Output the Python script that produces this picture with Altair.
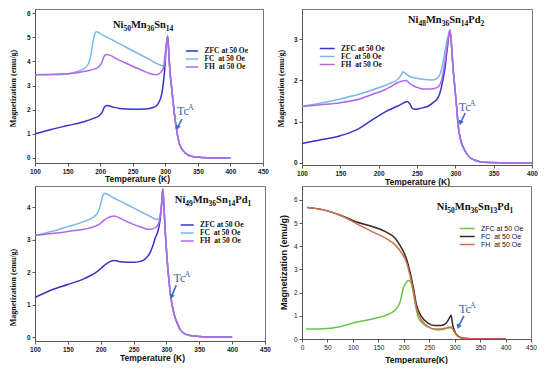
import altair as alt
import pandas as pd

SERIES = ["ZFC at 50 Oe", "FC\u00a0\u00a0at 50 Oe", "FH\u00a0\u00a0at 50 Oe"]
COLS_A = ["#3434c8", "#7ab8e6", "#b068e6"]
COLS_B = ["#66c844", "#3a2626", "#d0704e"]

# ---------- Panel 1: Ni50Mn36Sn14 ----------
p1_zfc_T = [100, 125, 150, 175, 190, 198, 203, 207, 211, 218, 230, 250, 270, 282, 287, 291, 294, 297, 299, 301, 303.5,
            305, 307, 310, 312, 317, 322, 330, 340, 355, 375, 400]
p1_zfc_M = [1.00, 1.18, 1.34, 1.50, 1.64, 1.74, 1.90, 2.12, 2.17, 2.12, 2.05, 2.02, 2.03, 2.10, 2.17, 2.35, 2.58, 3.10, 3.65, 4.40, 5.05,
            4.55, 3.65, 2.85, 2.31, 1.23, 0.56, 0.23, 0.07, 0.02, 0.0, 0.0]
p1_fc_T = [100, 130, 150, 165, 175, 182, 186, 189, 192, 194.5, 200, 220, 250, 275, 292, 297, 299, 301, 303.5,
           305, 307, 310, 312, 317, 322, 330, 340, 355, 375, 400]
p1_fc_M = [3.45, 3.45, 3.48, 3.58, 3.70, 3.90, 4.30, 4.80, 5.15, 5.23, 5.15, 4.87, 4.44, 4.09, 3.85, 3.82, 3.95, 4.40, 5.05,
           4.55, 3.65, 2.85, 2.31, 1.23, 0.56, 0.23, 0.07, 0.02, 0.0, 0.0]
p1_fh_T = [100, 150, 175, 195, 202, 207, 210, 230, 251, 265, 276, 286, 292, 297, 300, 303.5,
           305, 307, 310, 312, 317, 322, 330, 340, 355, 375, 400]
p1_fh_M = [3.45, 3.49, 3.58, 3.72, 3.92, 4.25, 4.28, 4.04, 3.79, 3.62, 3.50, 3.45, 3.52, 3.72, 4.32, 5.05,
           4.55, 3.65, 2.85, 2.31, 1.23, 0.56, 0.23, 0.07, 0.02, 0.0, 0.0]

# ---------- Panel 2: Ni48Mn36Sn14Pd2 ----------
p2_zfc_T = [100, 125, 150, 171, 193, 210, 225, 232, 237.5, 241, 244, 248, 258, 265, 271, 278, 282, 286.5, 290, 293,
            295, 297, 299, 301, 304, 307, 310.5, 315, 319, 325, 332, 345, 370, 400]
p2_zfc_M = [0.47, 0.56, 0.66, 0.80, 1.06, 1.25, 1.38, 1.45, 1.49, 1.42, 1.32, 1.30, 1.34, 1.38, 1.46, 1.60, 1.85, 2.30, 2.85, 3.22,
            2.85, 2.31, 1.90, 1.50, 0.86, 0.55, 0.37, 0.22, 0.13, 0.07, 0.03, 0.01, 0.0, 0.0]
p2_fc_T = [100, 125, 150, 175, 200, 215, 225, 230, 232, 235, 240, 250, 260, 270, 276, 280, 283, 286, 289, 291, 293,
           295, 297, 299, 301, 304, 307, 310.5, 315, 319, 325, 332, 345, 370, 400]
p2_fc_M = [1.37, 1.45, 1.55, 1.67, 1.82, 1.93, 2.03, 2.15, 2.21, 2.17, 2.10, 2.05, 2.02, 2.01, 2.05, 2.15, 2.35, 2.65, 2.95, 3.10, 3.22,
           2.85, 2.31, 1.90, 1.50, 0.86, 0.55, 0.37, 0.22, 0.13, 0.07, 0.03, 0.01, 0.0, 0.0]
p2_fh_T = [100, 125, 150, 175, 193, 205, 214, 223, 230, 236, 240, 245, 252, 258, 265, 271, 278, 282, 286.5, 290, 293,
           295, 297, 299, 301, 304, 307, 310.5, 315, 319, 325, 332, 345, 370, 400]
p2_fh_M = [1.37, 1.41, 1.46, 1.55, 1.67, 1.75, 1.83, 1.93, 1.98, 2.00, 1.93, 1.87, 1.82, 1.79, 1.79, 1.80, 1.85, 2.00, 2.45, 2.90, 3.22,
           2.85, 2.31, 1.90, 1.50, 0.86, 0.55, 0.37, 0.22, 0.13, 0.07, 0.03, 0.01, 0.0, 0.0]

# ---------- Panel 3: Ni49Mn36Sn14Pd1 ----------
p3_zfc_T = [100, 125, 150, 175, 195, 205, 212, 218, 221, 228, 236, 250, 260, 266, 272, 276, 280, 283, 287, 290, 292.5, 294.5,
            296.5, 298.5, 301, 303.5, 307, 310, 313.6, 317, 321, 328, 336, 350, 370, 400]
p3_zfc_M = [1.22, 1.45, 1.62, 1.80, 2.02, 2.20, 2.30, 2.35, 2.36, 2.33, 2.31, 2.30, 2.33, 2.38, 2.50, 2.64, 2.85, 3.05, 3.25, 3.55, 4.05, 4.56,
            3.90, 3.15, 2.40, 1.82, 1.20, 0.85, 0.58, 0.40, 0.23, 0.10, 0.05, 0.02, 0.0, 0.0]
p3_fc_T = [100, 125, 150, 175, 190, 196, 200, 203, 205.5, 220, 240, 260, 275, 285, 289, 291.5, 293, 294.5,
           296.5, 298.5, 301, 303.5, 307, 310, 313.6, 317, 321, 328, 336, 350, 370, 400]
p3_fc_M = [3.13, 3.25, 3.40, 3.56, 3.71, 3.85, 4.10, 4.33, 4.43, 4.28, 4.08, 3.87, 3.72, 3.62, 3.65, 3.90, 4.20, 4.56,
           3.90, 3.15, 2.40, 1.82, 1.20, 0.85, 0.58, 0.40, 0.23, 0.10, 0.05, 0.02, 0.0, 0.0]
p3_fh_T = [100, 150, 190, 200, 205.5, 212, 218, 220.6, 235, 250.7, 262, 271, 276, 282, 286, 289, 291, 293, 294.5,
           296.5, 298.5, 301, 303.5, 307, 310, 313.6, 317, 321, 328, 336, 350, 370, 400]
p3_fh_M = [3.13, 3.25, 3.40, 3.50, 3.61, 3.68, 3.72, 3.73, 3.60, 3.46, 3.38, 3.32, 3.32, 3.36, 3.42, 3.55, 3.80, 4.15, 4.56,
           3.90, 3.15, 2.40, 1.82, 1.20, 0.85, 0.58, 0.40, 0.23, 0.10, 0.05, 0.02, 0.0, 0.0]

# ---------- Panel 4: Ni50Mn36Sn13Pd1 ----------
p4_zfc_T = [8, 42, 74, 106, 138, 164, 183, 193, 199, 206, 209, 212, 215, 219, 222, 225, 228, 235, 241, 254, 267, 280, 289,
            296, 302, 309, 318, 340, 400]
p4_zfc_M = [0.43, 0.44, 0.53, 0.72, 0.86, 1.02, 1.25, 1.61, 2.19, 2.47, 2.52, 2.50, 2.38, 1.98, 1.61, 1.25, 0.96, 0.72, 0.60,
            0.46, 0.39, 0.43, 0.49, 0.46, 0.24, 0.10, 0.03, 0.01, 0.0]
p4_fc_T = [10, 42, 74, 106, 138, 164, 183, 196, 206, 212, 219, 225, 235, 247.5, 260, 273, 283, 287, 290, 293, 296, 299, 302,
           312, 330, 400]
p4_fc_M = [5.67, 5.57, 5.35, 5.06, 4.85, 4.63, 4.35, 3.91, 3.41, 2.91, 2.19, 1.47, 0.96, 0.68, 0.58, 0.58, 0.68, 0.80, 0.92,
           1.02, 0.62, 0.40, 0.22, 0.06, 0.01, 0.0]
p4_fh_T = [10, 42, 74, 106, 138, 164, 183, 196, 206, 212, 219, 225, 235, 247.5, 260, 273, 286, 292.6, 299, 305, 315, 330, 400]
p4_fh_M = [5.67, 5.57, 5.35, 4.99, 4.63, 4.35, 4.06, 3.70, 3.27, 2.76, 2.04, 1.32, 0.82, 0.53, 0.43, 0.43, 0.49, 0.53, 0.32,
           0.14, 0.03, 0.01, 0.0]

# compound names as (text, is_subscript) chunks
names = [
    [("Ni", 0), ("50", 1), ("Mn", 0), ("36", 1), ("Sn", 0), ("14", 1)],
    [("Ni", 0), ("48", 1), ("Mn", 0), ("36", 1), ("Sn", 0), ("14", 1), ("Pd", 0), ("2", 1)],
    [("Ni", 0), ("49", 1), ("Mn", 0), ("36", 1), ("Sn", 0), ("14", 1), ("Pd", 0), ("1", 1)],
    [("Ni", 0), ("50", 1), ("Mn", 0), ("36", 1), ("Sn", 0), ("13", 1), ("Pd", 0), ("1", 1)],
]
name_T = [266, 288, 371, 340]
name_M = [5.40, 3.39, 4.13, 5.57]
tc_T = [318, 304.4, 310.6, 308.5]
tc_M = [1.77, 1.26, 1.70, 1.11]
arr_T = [325.7, 313.0, 315.0, 318.3]
arr_M = [1.61, 1.21, 1.60, 1.00]
arr_T2 = [318.5, 306.6, 307.6, 307.2]
arr_M2 = [1.25, 0.97, 1.24, 0.53]

# Times-Bold advance widths (per 1000 em) for laying out the subscript chunks
TB = {"N": 722, "i": 278, "M": 944, "n": 556, "S": 556, "P": 611, "d": 556}
MAIN_FS = 10.5
SUB_FS = 7.5


def chunk_w(txt, sub):
    fs = SUB_FS if sub else MAIN_FS
    return sum(TB.get(c, 500) for c in txt) * fs / 1000.0


def make_df(Ts, Ms, series):
    rows = []
    for k, (t, m) in enumerate(zip(Ts, Ms)):
        for i, (a, b) in enumerate(zip(t, m)):
            rows.append({"T": a, "M": b, "s": series[k], "k": k, "i": i})
    return pd.DataFrame(rows)


def panel(idx, df, cols, xdom, xticks, ydom, yticks, w, h, leg, style, xtitle, xt, yt):
    if style == "A":
        lab = dict(labelFont="Liberation Sans", labelFontWeight="bold", labelFontSize=6.5)
        ytf = dict(titleFont="Liberation Serif", titleFontSize=8)
        xtf = dict(titleFont="Liberation Sans", titleFontSize=8.5)
        legf = dict(labelFont="Liberation Serif", labelFontWeight="bold", labelFontSize=7.5)
    else:
        lab = dict(labelFont="Liberation Sans", labelFontWeight="normal", labelFontSize=6.5)
        ytf = dict(titleFont="Liberation Sans", titleFontSize=9)
        xtf = dict(titleFont="Liberation Sans", titleFontSize=8.5)
        legf = dict(labelFont="Liberation Sans", labelFontWeight="normal", labelFontSize=7)
    common = dict(grid=False, domainColor="#555", tickColor="#555", tickSize=3, labelPadding=2,
                  labelColor="#222", titleColor="#111", titleFontWeight="bold", labelOverlap=False,
                  labelFlush=False)
    xax = alt.Axis(values=xticks, tickCount=len(xticks), title=xtitle, titleX=xt[0], titleY=xt[1],
                   titleAlign="center", titleBaseline="alphabetic", **lab, **xtf, **common)
    yax = alt.Axis(values=yticks, tickCount=len(yticks), title="Magnetization (emu/g)", titleX=yt[0],
                   titleY=yt[1], titleAlign="center", titleBaseline="bottom", **lab, **ytf, **common)
    xs = alt.Scale(domain=xdom, nice=False, zero=False)
    ys = alt.Scale(domain=ydom, nice=False, zero=False)
    r = leg[2]
    lines = alt.Chart(df).mark_line(strokeWidth=1.5, interpolate="monotone", clip=True).encode(
        x=alt.X("T:Q", scale=xs, axis=xax),
        y=alt.Y("M:Q", scale=ys, axis=yax),
        color=alt.Color("s:N", scale=alt.Scale(domain=SERIES, range=cols),
                        legend=alt.Legend(title=None, orient="none", legendX=leg[0] + r, legendY=leg[1],
                                          symbolType="M-2,0H2", symbolSize=(2 * r) ** 2, symbolStrokeWidth=1.5,
                                          labelColor="#111", rowPadding=leg[3], labelOffset=r + 5.5, padding=0,
                                          **legf)),
        detail="k:N",
        order="i:Q",
    )
    layers = [lines]
    # compound name, drawn chunk by chunk so subscripts are sized like the original
    tdf = pd.DataFrame({"T": [name_T[idx]], "M": [name_M[idx]]})
    chunks = names[idx]
    total = sum(chunk_w(t, s) for t, s in chunks)
    off = -total / 2.0
    for txt, sub in chunks:
        layers.append(
            alt.Chart(tdf).mark_text(font="Liberation Serif", fontWeight="bold",
                                     fontSize=SUB_FS if sub else MAIN_FS, color="#111",
                                     baseline="alphabetic", align="left", dx=off, dy=3 if sub else 0)
            .encode(x="T:Q", y="M:Q", text=alt.value(txt))
        )
        off += chunk_w(txt, sub)
    cdf = pd.DataFrame({"T": [tc_T[idx]], "M": [tc_M[idx]], "T2": [arr_T2[idx]], "M2": [arr_M2[idx]],
                        "Ta": [arr_T[idx]], "Ma": [arr_M[idx]]})
    layers.append(alt.Chart(cdf).mark_text(font="Liberation Serif", fontSize=12, color="#3a5fae", align="left",
                                           baseline="alphabetic").encode(x="T:Q", y="M:Q", text=alt.value("Tc")))
    layers.append(alt.Chart(cdf).mark_text(font="Liberation Serif", fontSize=8, color="#3a5fae", align="left",
                                           baseline="alphabetic", dx=11, dy=-5)
                  .encode(x="T:Q", y="M:Q", text=alt.value("A")))
    layers.append(alt.Chart(cdf).mark_rule(color="#3a6ccc", strokeWidth=1.6).encode(
        x="Ta:Q", y="Ma:Q", x2="T2:Q", y2="M2:Q"))
    layers.append(alt.Chart(cdf).mark_point(shape="triangle-down", filled=True, size=30, angle=20,
                                            color="#3a6ccc", opacity=1).encode(x="T2:Q", y="M2:Q"))
    return alt.layer(*layers).properties(width=w, height=h)


d1 = make_df([p1_zfc_T, p1_fc_T, p1_fh_T], [p1_zfc_M, p1_fc_M, p1_fh_M], SERIES)
d2 = make_df([p2_zfc_T, p2_fc_T, p2_fh_T], [p2_zfc_M, p2_fc_M, p2_fh_M], SERIES)
d3 = make_df([p3_zfc_T, p3_fc_T, p3_fh_T], [p3_zfc_M, p3_fc_M, p3_fh_M], SERIES)
d4 = make_df([p4_zfc_T, p4_fc_T, p4_fh_T], [p4_zfc_M, p4_fc_M, p4_fh_M], SERIES)

# legend: [line start x (px from plot left), top y, half line length r, rowPadding]
P1 = panel(0, d1, COLS_A, [100, 450], [100, 150, 200, 250, 300, 350, 400, 450], [-0.21, 6.17],
           [0, 1, 2, 3, 4, 5, 6], 228, 154, [150, 38, 3.0, -2.5], "A", "Temperature (K)", [102, 18], [-18, 79])
P2 = panel(1, d2, COLS_A, [100, 400], [100, 150, 200, 250, 300, 350, 400], [-0.05, 3.73],
           [0, 1, 2, 3], 230, 156, [17, 35, 3.75, -3.5], "A", "Temperature (K)", [115, 19], [-17, 79])
P3 = panel(2, d3, COLS_A, [100, 450], [100, 150, 200, 250, 300, 350, 400, 450], [-0.12, 4.65],
           [0, 1, 2, 3, 4], 230, 155, [145, 35, 3.25, -3.0], "A", "Temperature (K)", [117, 19], [-18, 101])
P4 = panel(3, d4, COLS_B, [0, 450], [0, 50, 100, 150, 200, 250, 300, 350, 400, 450], [0, 6.6],
           [0, 1, 2, 3, 4, 5, 6], 229, 153, [157, 38, 3.75, -3.5], "B", "Temperature(K)", [114, 23], [-14, 76])

row1 = alt.hconcat(P1, P2, spacing=7).resolve_scale(color="independent")
row2 = alt.hconcat(P3, P4, spacing=7).resolve_scale(color="independent")
chart = alt.vconcat(row1, row2, spacing=-7).resolve_scale(color="independent").properties(
    padding=0, background="white"
).configure_view(stroke="#777", strokeWidth=1).configure_axis(labelOverlap=False)

chart.save("out.html", embed_options={"renderer": "svg", "actions": False})
